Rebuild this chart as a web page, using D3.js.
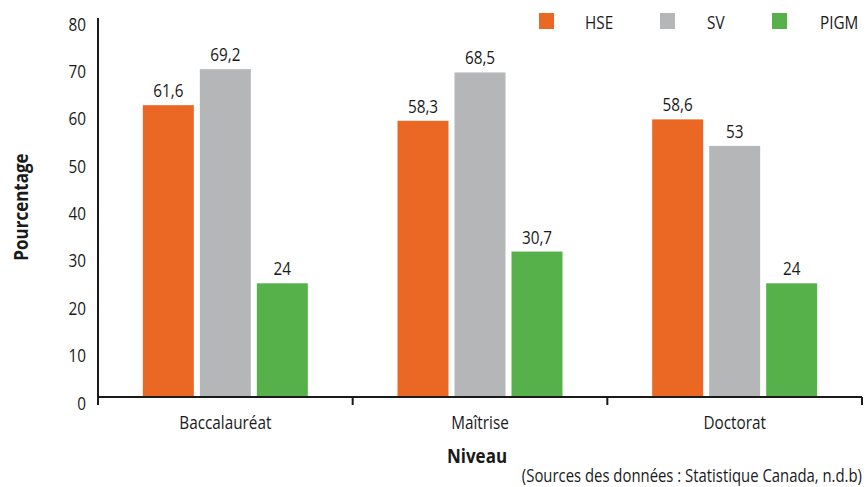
<!DOCTYPE html>
<html>
<head>
<meta charset="utf-8">
<script src="https://cdn.jsdelivr.net/npm/d3@7"></script>
<style>
  html, body { margin: 0; padding: 0; background: #fff; }
  svg text { font-family: "Open Sans", "Noto Sans", sans-serif; fill: #1a1a1a; }
</style>
</head>
<body>
<svg id="chart" width="866" height="487"></svg>
<script>
// Education levels on the x axis
const categories = ["Baccalauréat", "Maîtrise", "Doctorat"];
// Series names and their values (percent)
const seriesNames = ["HSE", "SV", "PIGM"];
const hseValues = [61.6, 58.3, 58.6];
const svValues = [69.2, 68.5, 53];
const pigmValues = [24, 30.7, 24];
const yTicks = [0, 10, 20, 30, 40, 50, 60, 70, 80];
const colors = ["#EA6824", "#B5B6B8", "#57B14A"];

const seriesValues = [hseValues, svValues, pigmValues];

const svg = d3.select("#chart");
const plotLeft = 98, plotRight = 862, plotTop = 18, plotBottom = 397;
const condense = 0.85; // horizontal squeeze for a condensed look

// Places a text at (x, y) with a narrowed glyph width
function addText(parent, x, y, str, opts = {}) {
  const rot = opts.rotate ? ` rotate(${opts.rotate})` : "";
  return parent.append("text")
    .attr("transform", `translate(${x},${y})${rot} scale(${condense},1)`)
    .attr("text-anchor", opts.anchor || "start")
    .style("font-size", (opts.size || 18) + "px")
    .style("font-weight", opts.weight || "normal")
    .text(str);
}

const x = d3.scaleBand().domain(categories).range([plotLeft, plotRight]).padding(0);
const y = d3.scaleLinear().domain([0, 80]).range([plotBottom, plotTop]);

const barW = 51, barGap = 6;
const inner = d3.scaleBand().domain(seriesNames)
  .range([0, barW * 3 + barGap * 2]).paddingInner(barGap / (barW + barGap));
const groupOffset = (x.bandwidth() - (barW * 3 + barGap * 2)) / 2;

const fmt = v => String(v).replace(".", ",");

// Bars and value labels
categories.forEach((cat, ci) => {
  const g = svg.append("g")
    .attr("transform", `translate(${x(cat) + groupOffset},0)`);
  seriesNames.forEach((s, si) => {
    const v = seriesValues[si][ci];
    g.append("rect")
      .attr("x", inner(s))
      .attr("width", inner.bandwidth())
      .attr("y", y(v))
      .attr("height", plotBottom - y(v))
      .attr("fill", colors[si]);
    addText(g, inner(s) + inner.bandwidth() / 2, y(v) - 8, fmt(v), { anchor: "middle" });
  });
});

// Y axis: line and labels, no tick marks
svg.append("line")
  .attr("x1", plotLeft).attr("x2", plotLeft)
  .attr("y1", plotTop).attr("y2", plotBottom + 8)
  .attr("stroke", "#1a1a1a").attr("stroke-width", 2);
yTicks.forEach(t => addText(svg, 86, y(t) + 12.5, t, { anchor: "end" }));

// X axis: baseline with ticks at category boundaries
svg.append("line")
  .attr("x1", plotLeft).attr("x2", plotRight)
  .attr("y1", plotBottom).attr("y2", plotBottom)
  .attr("stroke", "#1a1a1a").attr("stroke-width", 2);
const bounds = categories.map(c => x(c)).concat([plotRight]);
svg.selectAll("line.xtick").data(bounds).join("line")
  .attr("class", "xtick")
  .attr("x1", d => d).attr("x2", d => d)
  .attr("y1", plotBottom).attr("y2", plotBottom + 8)
  .attr("stroke", "#1a1a1a").attr("stroke-width", 2);
categories.forEach(c => addText(svg, x(c) + x.bandwidth() / 2, 429, c, { anchor: "middle" }));

// Axis titles
addText(svg, 28, 207, "Pourcentage", { anchor: "middle", size: 20, weight: "bold", rotate: -90 });
addText(svg, 477, 463, "Niveau", { anchor: "middle", size: 20, weight: "bold" });

// Source note
addText(svg, 862, 482, "(Sources des données : Statistique Canada, n.d.b)", { anchor: "end", size: 17.5 });

// Legend
const legendX = [539, 660, 772];
const legendTextX = [585, 707, 820];
seriesNames.forEach((s, i) => {
  svg.append("rect")
    .attr("x", legendX[i]).attr("y", 13)
    .attr("width", 15).attr("height", 16)
    .attr("fill", colors[i]);
  addText(svg, legendTextX[i], 29, s);
});
</script>
</body>
</html>
